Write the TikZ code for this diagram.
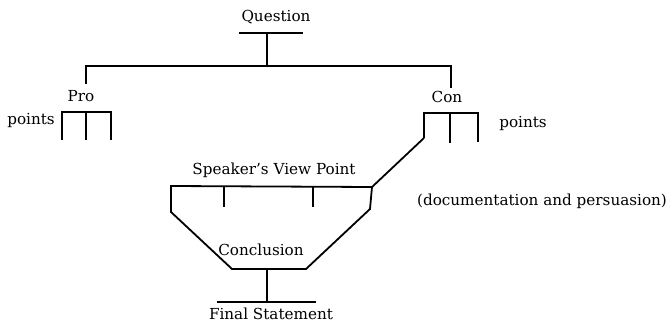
\documentclass[tikz,border=0pt]{standalone}
\usepackage{fontspec}
\setmainfont{DejaVu Serif}
\begin{document}
\begin{tikzpicture}[x=1pt,y=-1pt,
  ln/.style={line width=1.8pt,line join=miter},
  lbl/.style={inner sep=0pt,font=\fontsize{15.2}{18}\selectfont}]
\useasboundingbox (0,0) rectangle (670,324);
% texts
\node[lbl] (q) at (276,17) {Question};
\node[lbl] (pro) at (81,96) {Pro};
\node[lbl] (con) at (447,97) {Con};
\node[lbl] (ptl) at (31,120) {points};
\node[lbl] (ptr) at (523,123) {points};
\node[lbl] (svp) at (274,170) {Speaker's View Point};
\node[lbl] (dp) at (542,201) {(documentation and persuasion)};
\node[lbl] (conc) at (261,250) {Conclusion};
\node[lbl] (fs) at (271,314) {Final Statement};
% junction coordinates
\coordinate (qul) at (239,33);
\coordinate (qur) at (303,33);
\coordinate (qs) at (267,33);
\coordinate (hq) at (267,66);
\coordinate (hl) at (86,66);
\coordinate (hr) at (451,66);
\coordinate (pd) at (86,84);
\coordinate (cd) at (451,88);
% Pro bracket
\coordinate (pa) at (62,112);
\coordinate (pb) at (86,112);
\coordinate (pc) at (111,112);
% Con bracket
\coordinate (ca) at (424,113);
\coordinate (cb) at (450,113);
\coordinate (cc) at (478,113);
\coordinate (cal) at (424,138);
% trapezoid
\coordinate (t1) at (171,186);
\coordinate (t2) at (372,187);
\coordinate (t3) at (370,209);
\coordinate (t4) at (306,269);
\coordinate (t5) at (232,269);
\coordinate (t6) at (171,212);
\coordinate (k1) at (224,186);
\coordinate (k2) at (313,187);
\coordinate (st) at (267,269);
\coordinate (sb) at (267,302);
\coordinate (ful) at (217,302);
\coordinate (fur) at (316,302);
% lines
\draw[ln] (qul) -- (qur);
\draw[ln] (qs) -- (hq);
\draw[ln] (pd) -- (hl) -- (hr) -- (cd);
\draw[ln] (62,140) -- (pa) -- (pc) -- (111,140);
\draw[ln] (pb) -- (86,140);
\draw[ln] (cal) -- (ca) -- (cc) -- (478,142);
\draw[ln] (cb) -- (450,143);
\draw[ln] (cal) -- (t2);
\draw[ln] (t1) -- (t2) -- (t3) -- (t4) -- (t5) -- (t6) -- cycle;
\draw[ln] (k1) -- (224,207);
\draw[ln] (k2) -- (313,207);
\draw[ln] (st) -- (sb);
\draw[ln] (ful) -- (fur);
\end{tikzpicture}
\end{document}
